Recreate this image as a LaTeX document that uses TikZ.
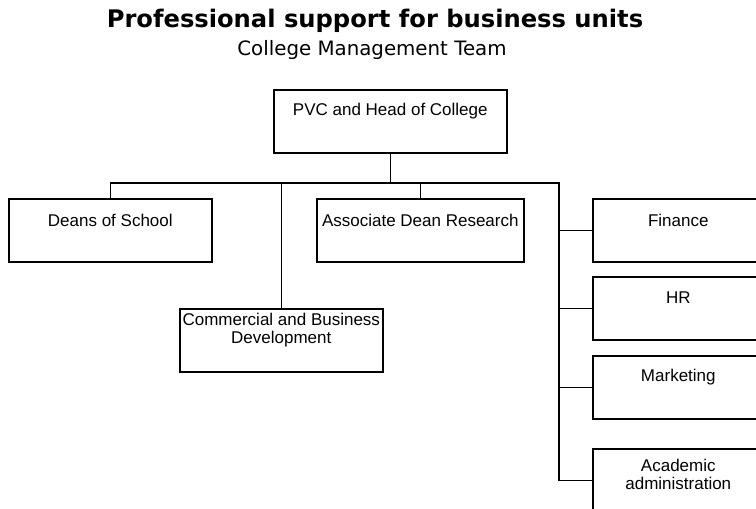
\documentclass[tikz,border=0pt]{standalone}
\usepackage{fontspec}
\setmainfont{Liberation Sans}
\newfontfamily\titlefont{DejaVu Sans}
\usetikzlibrary{positioning, calc}

\begin{document}
\begin{tikzpicture}[x=1pt, y=-1pt,
  box/.style={draw, line width=1.6pt, anchor=north west, minimum height=63pt},
  lbl/.style={font=\fontsize{17}{18}\selectfont, align=center, inner sep=0pt},
  conn/.style={line width=1.6pt}]
  \path[use as bounding box] (0,0) rectangle (756,509);
  \clip (0,0) rectangle (756,509);
  \node[font=\titlefont\bfseries\fontsize{24.2}{26}\selectfont] (title) at (375,21) {Professional support for business units};
  \node[font=\titlefont\fontsize{19.8}{22}\selectfont] (subtitle) at (372,50) {College Management Team};

  % boxes
  \node[box, minimum width=233pt] (pvc) at (273,89) {};
  \node[box, minimum width=203pt] (deans) at (8,198) {};
  \node[box, minimum width=207pt] (assoc) at (316,198) {};
  \node[box, minimum width=203pt] (comm) at (179,308) {};
  \node[box, minimum width=171pt] (fin) at (592,198) {};
  \node[box, minimum width=171pt] (hr) at (592,276) {};
  \node[box, minimum width=171pt] (mkt) at (592,355) {};
  \node[box, minimum width=171pt] (acad) at (592,448) {};

  % texts near the top of each box
  \node[lbl, below=22pt of pvc.north, anchor=center] (pvctxt) {PVC and Head of College};
  \node[lbl, below=22pt of deans.north, anchor=center] (deanstxt) {Deans of School};
  \node[lbl, below=22pt of assoc.north, anchor=center] (assoctxt) {Associate Dean Research};
  \node[lbl, below=22pt of comm.north, anchor=center] (commtxt) {Commercial and Business\\Development};
  \node[lbl, below=22pt of fin.north, anchor=center] (fintxt) {Finance};
  \node[lbl, below=22pt of hr.north, anchor=center] (hrtxt) {HR};
  \node[lbl, below=22pt of mkt.north, anchor=center] (mkttxt) {Marketing};
  \node[lbl, below=26pt of acad.north, anchor=center] (acadtxt) {Academic\\administration};

  % connectors
  \coordinate (spine) at (559,183);
  \draw[conn] (deans.north) |- (spine) -- (spine |- acad.west) -- (acad.west);
  \draw[conn] (pvc.south) -- (pvc.south |- spine);
  \draw[conn] (assoc.north) -- (assoc.north |- spine);
  \draw[conn] (comm.north) -- (comm.north |- spine);
  \foreach \n in {fin,hr,mkt}
    \draw[conn] (\n.west) -- (\n.west -| spine);
\end{tikzpicture}
\end{document}
